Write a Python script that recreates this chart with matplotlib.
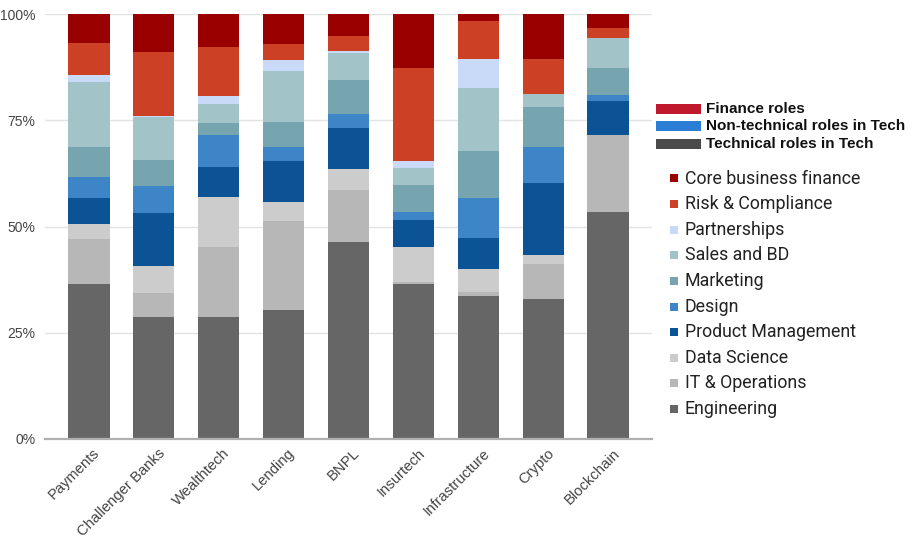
import matplotlib
matplotlib.use("Agg")
import matplotlib.pyplot as plt
from matplotlib.patches import Rectangle
import matplotlib.transforms as mtransforms
import numpy as np

plt.rcParams['font.family'] = ['Roboto', 'DejaVu Sans']

categories = ["Payments", "Challenger Banks", "Wealthtech", "Lending", "BNPL",
              "Insurtech", "Infrastructure", "Crypto", "Blockchain"]

engineering   = [36.5, 28.8, 28.7, 30.4, 46.3, 36.4, 33.7, 33.0, 53.5]
it_operations = [10.6,  5.5, 16.4, 20.8, 12.3,  0.5,  1.0,  8.1, 18.1]
data_science  = [ 3.5,  6.5, 11.9,  4.5,  4.9,  8.2,  5.4,  2.2,  0.0]
product_mgmt  = [ 6.0, 12.3,  7.1,  9.6,  9.6,  6.5,  7.2, 17.0,  7.9]
design        = [ 5.1,  6.5,  7.5,  3.5,  3.3,  1.8,  9.5,  8.5,  1.5]
marketing     = [ 7.1,  6.1,  2.8,  5.7,  8.1,  6.4, 11.0,  9.4,  6.4]
sales_bd      = [15.1, 10.0,  4.4, 12.0,  6.3,  3.9, 14.8,  2.9,  6.9]
partnerships  = [ 1.8,  0.3,  2.0,  2.7,  0.6,  1.7,  6.8,  0.0,  0.0]
risk_comp     = [ 7.4, 15.1, 11.5,  3.7,  3.4, 21.8,  9.0,  8.3,  2.5]
core_finance  = [ 6.9,  8.9,  7.7,  7.1,  5.2, 12.8,  1.6, 10.6,  3.2]

series_names = ["Engineering", "IT & Operations", "Data Science", "Product Management",
                "Design", "Marketing", "Sales and BD", "Partnerships",
                "Risk & Compliance", "Core business finance"]
series_values = [engineering, it_operations, data_science, product_mgmt, design,
                 marketing, sales_bd, partnerships, risk_comp, core_finance]
series_colors = ["#666666", "#b7b7b7", "#cccccc", "#0b5394", "#3d85c6",
                 "#76a5af", "#a2c4c9", "#c9daf8", "#cc4125", "#990000"]

group_names = ["Finance roles", "Non-technical roles in Tech", "Technical roles in Tech"]
group_colors = ["#c0182c", "#2a7fd4", "#4a4a4a"]

W, H = 918, 537
fig = plt.figure(figsize=(W/100, H/100), dpi=100)
ax = fig.add_axes([45/W, (H-439)/H, (652-45)/W, (439-14)/H])

data = np.array(series_values, dtype=float)
totals = data.sum(axis=0)
pct = data / totals * 100
x = np.arange(len(categories))
bottom = np.zeros(len(categories))
for name, vals, col in zip(series_names, pct, series_colors):
    ax.bar(x, vals, bottom=bottom, width=0.645, color=col, label=name, zorder=3)
    bottom += vals

ax.set_xlim(-0.67, len(categories) - 0.33)
ax.set_ylim(0, 100)
ax.set_yticks([0, 25, 50, 75, 100])
ax.set_yticklabels(["0%", "25%", "50%", "75%", "100%"], family=['Liberation Sans', 'DejaVu Sans'])
ax.grid(axis='y', color='#e3e3e3', linewidth=1, zorder=0)
for s in ['top', 'right', 'left']:
    ax.spines[s].set_visible(False)
ax.spines['bottom'].set_color('#b0b0b0')
ax.spines['bottom'].set_linewidth(1.6)
ax.spines['bottom'].set_zorder(4)
ax.tick_params(axis='y', length=0, colors='#444444', labelsize=10, pad=7)
ax.set_xticks(x)
ax.set_xticklabels(categories, rotation=45, ha='right', rotation_mode='anchor',
                   family=['Liberation Sans', 'DejaVu Sans'])
ax.tick_params(axis='x', length=0, colors='#444444', labelsize=10.6, pad=5)
offset = mtransforms.ScaledTranslation(4/100, 0, fig.dpi_scale_trans)
for lbl in ax.get_xticklabels():
    lbl.set_transform(lbl.get_transform() + offset)

# Group legend (headers)
ys = [109, 126, 144]
for name, col, yy in zip(group_names, group_colors, ys):
    fig.add_artist(Rectangle((656/W, (H-yy-5)/H), 45/W, 10/H, transform=fig.transFigure,
                             color=col, lw=0))
    fig.text(706/W, (H-yy)/H, name, fontsize=11, fontweight='bold', va='center',
             ha='left', color='#111111', family=['Liberation Sans', 'DejaVu Sans'])

# Series legend
item_y0 = 178.5
step = 25.6
for i, (name, col) in enumerate(zip(series_names[::-1], series_colors[::-1])):
    yy = item_y0 + i*step
    fig.add_artist(Rectangle((670/W, (H-yy-4)/H), 8/W, 8/H, transform=fig.transFigure,
                             color=col, lw=0))
    fig.text(685/W, (H-yy)/H, name, fontsize=12.8, va='center', ha='left', color='#222222')

fig.savefig("out.png", dpi=100)
